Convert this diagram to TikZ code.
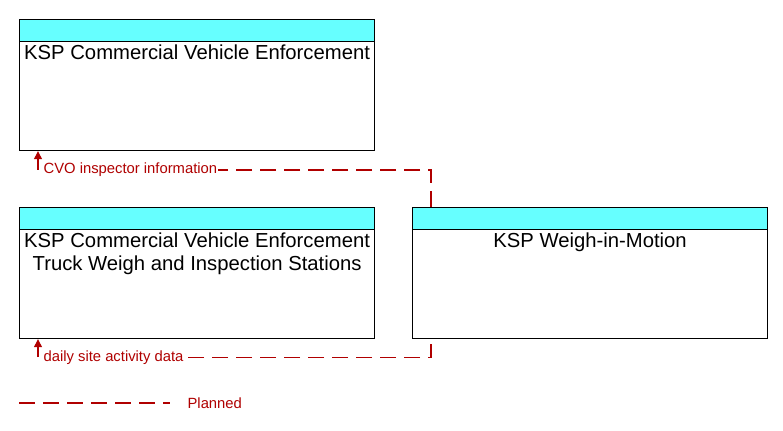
\documentclass[tikz,border=0pt]{standalone}
\usepackage{fontspec}
\setmainfont{Liberation Sans}
\usetikzlibrary{arrows.meta,calc}

\definecolor{hdrcyan}{RGB}{102,255,255}
\definecolor{plannedred}{RGB}{176,0,0}

\tikzset{
  elem/.style={draw,line width=0.9pt,anchor=north west,inner sep=0pt,
    minimum width=266.25pt,minimum height=98.25pt,
    path picture={
      \fill[hdrcyan] (path picture bounding box.north west)
        rectangle ([yshift=-16.5pt]path picture bounding box.north east);
      \draw[line width=0.9pt] ([yshift=-16.5pt]path picture bounding box.north west)
        -- ([yshift=-16.5pt]path picture bounding box.north east);}},
  elemtext/.style={anchor=north,align=center,inner sep=0pt,
    font=\fontsize{15.2}{17.25}\selectfont},
  planned/.style={plannedred,line width=0.9pt,dash pattern=on 12pt off 6pt},
  flowlabel/.style={anchor=west,text=plannedred,fill=white,inner sep=1pt,
    font=\fontsize{11.1}{13}\selectfont},
  tip/.style={-{Triangle[length=6pt,width=6pt]}}
}

\begin{document}
\begin{tikzpicture}[x=0.75pt,y=-0.75pt]
  \useasboundingbox (0,0) rectangle (783,431);

  % elements
  \node[elem] (cve) at (19,19) {};
  \node[elem] (tws) at (19,207) {};
  \node[elem] (wim) at (412,207) {};
  \node[elemtext] (cvet) at ($(cve.north)+(0,26)$) {KSP Commercial Vehicle Enforcement};
  \node[elemtext] (twst) at ($(tws.north)+(0,26)$) {KSP Commercial Vehicle Enforcement\\Truck Weigh and Inspection Stations};
  \node[elemtext] (wimt) at ($(wim.north)+(0,26)$) {KSP Weigh-in-Motion};

  % flows
  \coordinate (wimtop) at ($(wim.north west)+(19,0)$);
  \coordinate (wimbot) at ($(wim.south west)+(19,5)$);
  \coordinate (cvein) at ($(cve.south west)+(19,0)$);
  \coordinate (twsin) at ($(tws.south west)+(19,0)$);
  \coordinate (bend1) at ($(wimtop)+(0,-37)$);
  \coordinate (bend2) at ($(wimbot)+(0,13)$);

  \draw[planned] (wimtop) -- (bend1) -- (bend1 -| cvein);
  \draw[plannedred,line width=0.9pt,tip] (bend1 -| cvein) -- (cvein);
  \node[flowlabel] (f1) at ($(bend1 -| cvein)+(4,0)$) {CVO inspector information};

  \draw[planned] (wimbot) -- (bend2) -- (bend2 -| twsin);
  \draw[plannedred,line width=0.9pt,tip] (bend2 -| twsin) -- (twsin);
  \node[flowlabel] (f2) at ($(bend2 -| twsin)+(4,0)$) {daily site activity data};

  % legend
  \coordinate (lg1) at (19,403);
  \coordinate (lg2) at (170,403);
  \draw[planned] (lg1) -- (lg2);
  \node[flowlabel,anchor=west] (lgt) at ($(lg2)+(16,0)$) {Planned};
\end{tikzpicture}
\end{document}
